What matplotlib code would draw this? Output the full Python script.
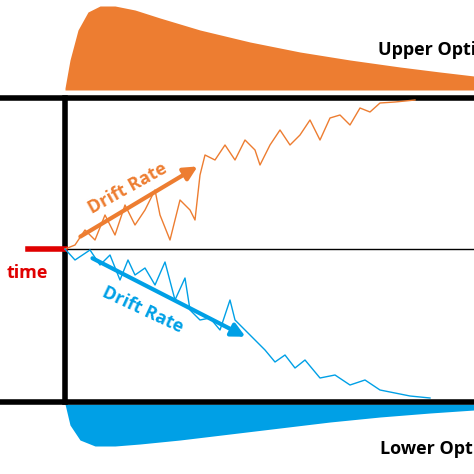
import numpy as np
import matplotlib
matplotlib.use("Agg")
import matplotlib.pyplot as plt

# Upper distribution (pixel coords)
up_x = [65, 70, 78, 88, 100, 115, 135, 160, 200, 250, 300, 350, 400, 440, 474]
up_y = [88, 60, 30, 12, 6, 6, 10, 18, 30, 42, 52, 60, 67, 72, 76]
# Lower distribution
lo_x = [65, 70, 80, 95, 115, 140, 180, 230, 280, 330, 380, 430, 474]
lo_y = [404, 425, 440, 446, 446, 444, 440, 434, 428, 422, 417, 413, 410]
# Orange sample path
or_x = [65, 75, 85, 95, 105, 115, 125, 135, 145, 155, 160, 170, 180, 190, 195, 200, 205, 215, 225, 235, 245, 255, 260, 270, 280, 290, 300, 310, 320, 330, 340, 350, 360, 370, 380, 395, 415]
or_y = [249, 245, 230, 240, 215, 235, 205, 225, 210, 190, 215, 240, 200, 210, 220, 175, 155, 160, 145, 160, 140, 150, 165, 145, 130, 145, 135, 120, 140, 118, 115, 125, 108, 112, 103, 102, 100]
# Blue sample path
bl_x = [65, 75, 90, 100, 110, 120, 128, 135, 145, 155, 165, 175, 185, 190, 200, 210, 220, 230, 235, 245, 255, 265, 275, 285, 295, 305, 320, 335, 350, 365, 380, 395, 410, 430]
bl_y = [249, 260, 250, 265, 255, 280, 260, 275, 268, 285, 262, 300, 278, 310, 320, 318, 330, 300, 320, 330, 340, 350, 362, 355, 368, 360, 378, 375, 385, 380, 390, 393, 396, 398]

fig = plt.figure(figsize=(4.74, 4.74), dpi=100)
ax = fig.add_axes([0, 0, 1, 1])
ax.set_xlim(0, 474)
ax.set_ylim(474, 0)
ax.axis("off")

orange = "#ED7D31"
blue = "#00A0E6"
ax.fill_between(up_x, up_y, 90, color=orange, lw=0)
ax.fill_between(lo_x, 404, lo_y, color=blue, lw=0)

ax.plot([0, 474], [98, 98], color="black", lw=4)
ax.plot([0, 474], [402, 402], color="black", lw=4)
ax.plot([65, 65], [98, 402], color="black", lw=4)
ax.plot([65, 474], [249, 249], color="black", lw=1)
ax.plot([28, 65], [249, 249], color="#E00000", lw=4)

ax.plot(or_x, or_y, color=orange, lw=1)
ax.plot(bl_x, bl_y, color=blue, lw=1)

ax.annotate("", xy=(200, 165), xytext=(78, 238),
            arrowprops=dict(arrowstyle="-|>,head_width=0.4,head_length=0.8", color=orange, lw=3))
ax.annotate("", xy=(248, 338), xytext=(90, 257),
            arrowprops=dict(arrowstyle="-|>,head_width=0.4,head_length=0.8", color=blue, lw=3))

ax.text(128, 188, "Drift Rate", color=orange, fontsize=13, fontweight="bold",
        rotation=29, ha="center", va="center", family="Open Sans")
ax.text(143, 310, "Drift Rate", color=blue, fontsize=13, fontweight="bold",
        rotation=-25, ha="center", va="center", family="Open Sans")
ax.text(48, 273, "time", color="#E00000", fontsize=13, fontweight="bold",
        ha="right", va="center", family="Open Sans")
ax.text(378, 50, "Upper Option", color="black", fontsize=13, fontweight="bold",
        ha="left", va="center", family="Open Sans")
ax.text(380, 449, "Lower Option", color="black", fontsize=13, fontweight="bold",
        ha="left", va="center", family="Open Sans")

fig.savefig("out.png", dpi=100)
